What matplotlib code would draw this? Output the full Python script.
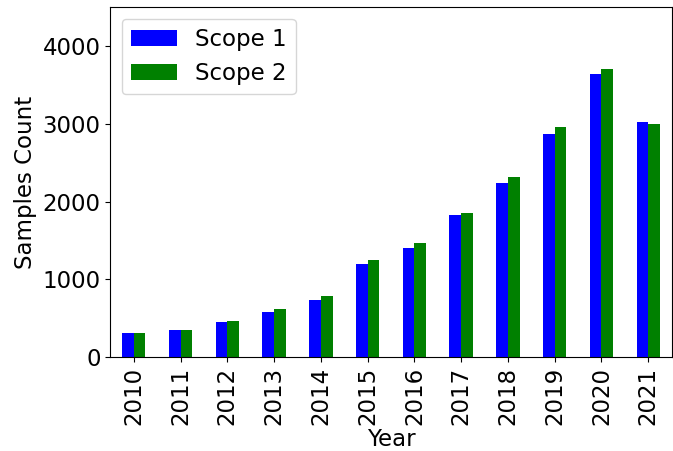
import pandas as pd
import matplotlib
matplotlib.use('Agg')
import matplotlib.pyplot as plt

years = [2010, 2011, 2012, 2013, 2014, 2015, 2016, 2017, 2018, 2019, 2020, 2021]
scope1 = [305, 356, 447, 575, 730, 1193, 1399, 1824, 2235, 2866, 3638, 3021]
scope2 = [305, 356, 460, 614, 781, 1245, 1463, 1849, 2313, 2956, 3703, 2995]

plt.rcParams['font.size'] = 16.5

df = pd.DataFrame({'Scope 1': scope1, 'Scope 2': scope2}, index=years)

fig, ax = plt.subplots(figsize=(6.73, 4.51), dpi=100)
df.plot(kind='bar', ax=ax, color=['blue', 'green'])
ax.set_xlabel("Year", labelpad=2)
ax.set_ylabel("Samples Count")
ax.set_ylim(0, 4500)
ax.set_yticks([0, 1000, 2000, 3000, 4000])
ax.legend(loc='upper left')

fig.subplots_adjust(left=0.164, right=0.998, top=0.984, bottom=0.208)
fig.savefig('out.png')
